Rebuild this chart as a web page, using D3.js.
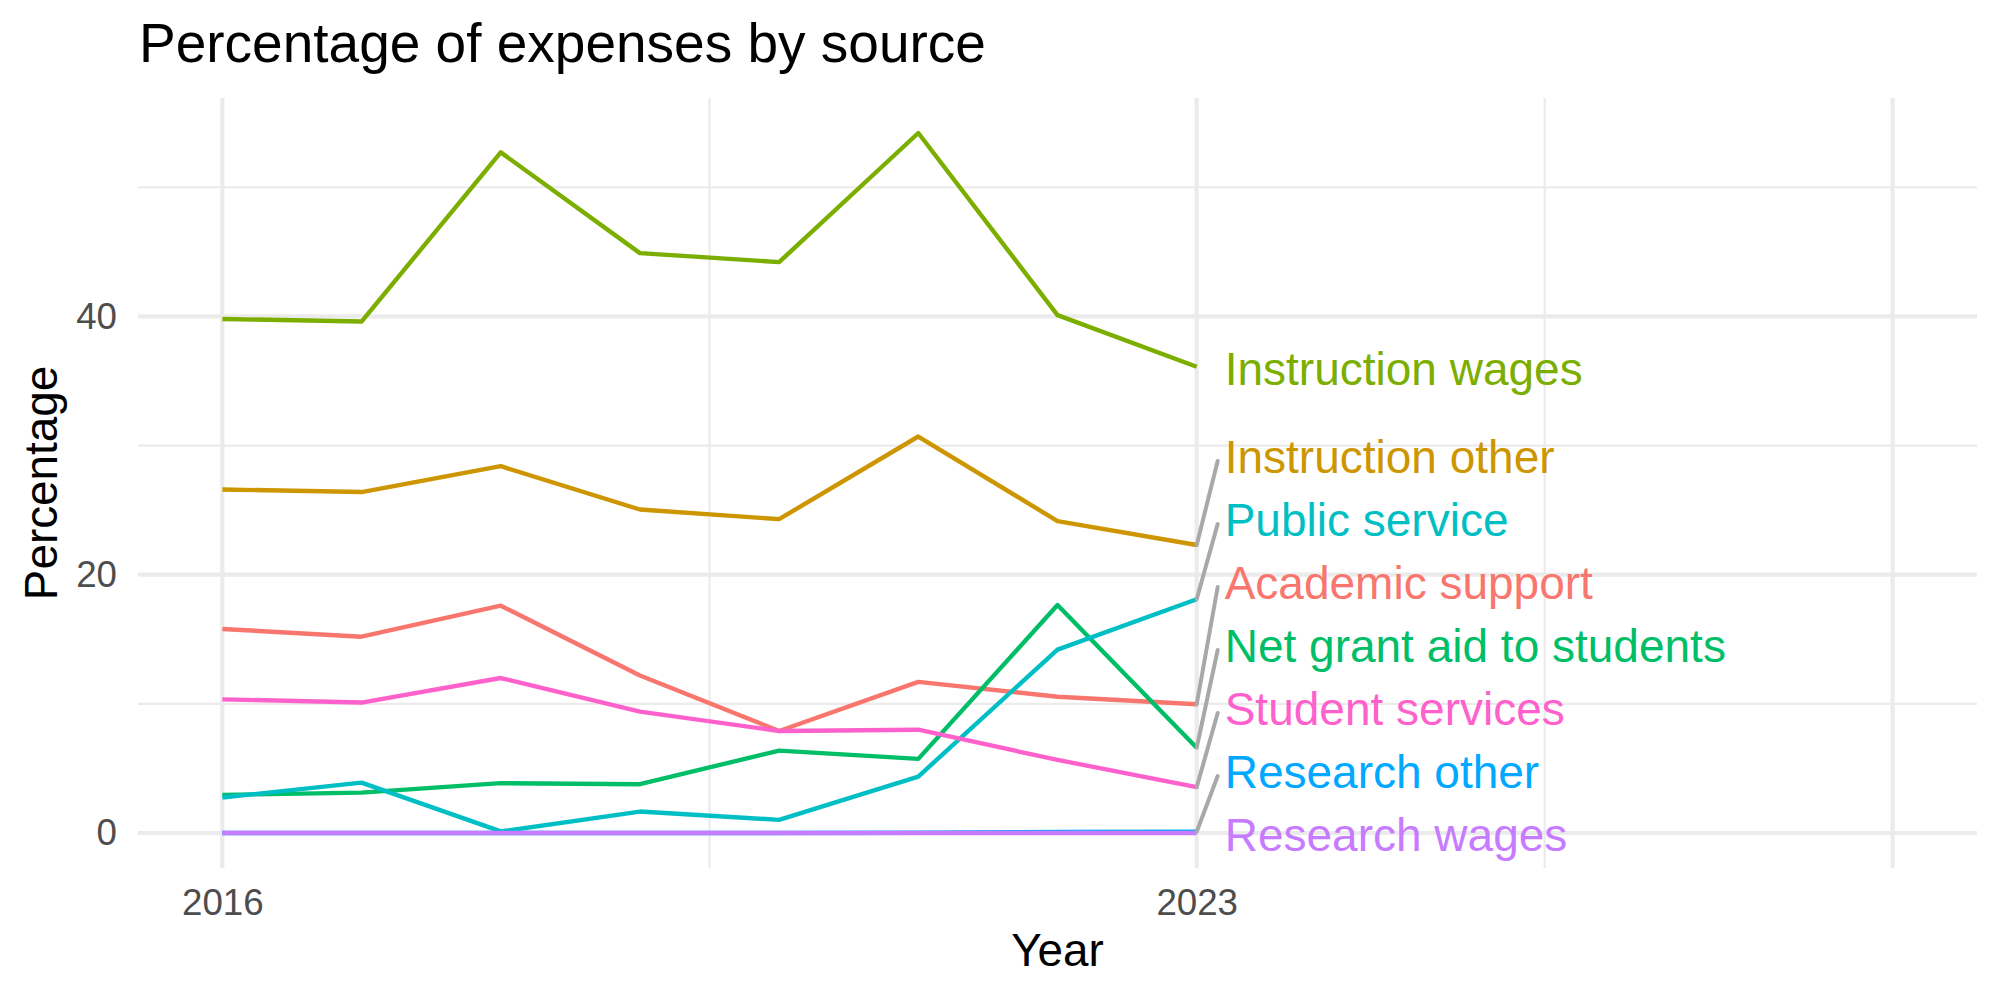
<!DOCTYPE html>
<html lang="en">
<head>
  <meta charset="UTF-8"/>
  <title>Percentage of expenses by source</title>
  <script src="https://d3js.org/d3.v7.min.js"></script>
  <style>
    body { margin: 0; background: #ffffff; }
    svg text { font-family: "Liberation Sans", Arial, Helvetica, sans-serif; }
  </style>
</head>
<body>
<svg id="chart"></svg>
<script>
// data
const years = [2016, 2017, 2018, 2019, 2020, 2021, 2022, 2023];

const academicSupport  = [15.8, 15.2, 17.6, 12.2, 7.9, 11.7, 10.55, 9.97];
const instructionOther = [26.6, 26.4, 28.4, 25.05, 24.3, 30.7, 24.15, 22.3];
const instructionWages = [39.8, 39.6, 52.7, 44.9, 44.2, 54.2, 40.1, 36.1];
const netGrantAid      = [2.95, 3.13, 3.86, 3.78, 6.38, 5.74, 17.65, 6.6];
const publicService    = [2.75, 3.9, 0.12, 1.66, 1.02, 4.37, 14.2, 18.1];
const researchOther    = [0, 0, 0, 0, 0, 0.02, 0.08, 0.1];
const researchWages    = [0, 0, 0, 0, 0, 0, 0, 0];
const studentServices  = [10.35, 10.1, 12.0, 9.4, 7.9, 8.0, 5.66, 3.55];

const categories = ["Academic support", "Instruction other", "Instruction wages",
  "Net grant aid to students", "Public service", "Research other",
  "Research wages", "Student services"];
const seriesValues = [academicSupport, instructionOther, instructionWages, netGrantAid,
  publicService, researchOther, researchWages, studentServices];

const xBreaks = [2016, 2023, 2028];
const xTickLabels = ["2016", "2023", ""];
const yBreaks = [0, 20, 40];
const yMinorBreaks = [10, 30, 50];

const W = 2000, H = 1000;
const panel = {left: 138, right: 1977, top: 98, bottom: 868};

const colors = d3.scaleOrdinal()
  .domain(categories)
  .range(["#F8766D", "#CD9600", "#7CAE00", "#00BE67", "#00BFC4", "#00A9FF", "#C77CFF", "#FF61CC"]);

const series = categories.map((name, i) => ({
  name: name,
  values: years.map((yr, j) => ({year: yr, value: seriesValues[i][j]}))
}));

// scales: x leaves room on the right for the labels
const xPad = 0.606;
const x = d3.scaleLinear()
  .domain([d3.min(xBreaks) - xPad, d3.max(xBreaks) + xPad])
  .range([panel.left, panel.right]);

const allVals = seriesValues.flat();
const yMin = d3.min(allVals), yMax = d3.max(allVals);
const yExp = (yMax - yMin) * 0.05;
const y = d3.scaleLinear()
  .domain([yMin - yExp, yMax + yExp])
  .range([panel.bottom, panel.top]);

const svg = d3.select("#chart").attr("width", W).attr("height", H);

// grid
const xMinor = d3.pairs(xBreaks).map(p => (p[0] + p[1]) / 2);
const grid = svg.append("g").attr("stroke", "#EBEBEB");
grid.selectAll(".ymin").data(yMinorBreaks).join("line")
  .attr("x1", panel.left).attr("x2", panel.right)
  .attr("y1", d => y(d)).attr("y2", d => y(d)).attr("stroke-width", 2.2);
grid.selectAll(".xmin").data(xMinor).join("line")
  .attr("y1", panel.top).attr("y2", panel.bottom)
  .attr("x1", d => x(d)).attr("x2", d => x(d)).attr("stroke-width", 2.2);
grid.selectAll(".ymaj").data(yBreaks).join("line")
  .attr("x1", panel.left).attr("x2", panel.right)
  .attr("y1", d => y(d)).attr("y2", d => y(d)).attr("stroke-width", 4.2);
grid.selectAll(".xmaj").data(xBreaks).join("line")
  .attr("y1", panel.top).attr("y2", panel.bottom)
  .attr("x1", d => x(d)).attr("x2", d => x(d)).attr("stroke-width", 4.2);

// axes
const xAxis = svg.append("g")
  .attr("transform", `translate(0,${panel.bottom})`)
  .call(d3.axisBottom(x).tickValues(xBreaks)
    .tickFormat((d, i) => xTickLabels[i]).tickSize(0).tickPadding(21));
const yAxis = svg.append("g")
  .attr("transform", `translate(${panel.left},0)`)
  .call(d3.axisLeft(y).tickValues(yBreaks).tickSize(0).tickPadding(21));
[xAxis, yAxis].forEach(a => {
  a.select(".domain").remove();
  a.selectAll("text").attr("fill", "#4D4D4D").style("font-size", "36.7px")
    .style("font-family", '"Liberation Sans", Arial, sans-serif');
});

// lines
const line = d3.line().x(d => x(d.year)).y(d => y(d.value));
svg.append("g").selectAll("path").data(series).join("path")
  .attr("d", d => line(d.values))
  .attr("fill", "none")
  .attr("stroke", d => colors(d.name))
  .attr("stroke-width", 4.4)
  .attr("stroke-linejoin", "round");

// end labels, stacked upward from the bottom of the panel
const lastYear = years[years.length - 1];
const ends = series.map(s => ({name: s.name, value: s.values[s.values.length - 1].value}))
  .sort((a, b) => a.value - b.value);
const labelGap = 63;
ends.forEach((d, i) => {
  const target = y(d.value);
  if (i === 0) d.ly = Math.min(target, panel.bottom - 30);
  else d.ly = Math.min(target, ends[i - 1].ly - labelGap);
});
const labelX = x(lastYear) + 28;

svg.append("g").selectAll("line").data(ends.filter(d => Math.abs(d.ly - y(d.value)) > 15))
  .join("line")
  .attr("x1", x(lastYear)).attr("y1", d => y(d.value))
  .attr("x2", labelX - 7).attr("y2", d => d.ly + 6)
  .attr("stroke", "#A8A8A8").attr("stroke-width", 4)
  .attr("stroke-linecap", "round");

svg.append("g").selectAll("text").data(ends).join("text")
  .attr("x", labelX).attr("y", d => d.ly).attr("dy", "0.4em")
  .attr("fill", d => colors(d.name))
  .style("font-size", "46px")
  .text(d => d.name);

// titles
svg.append("text").attr("x", 139).attr("y", 62)
  .style("font-size", "55px").attr("fill", "#000")
  .text("Percentage of expenses by source");
svg.append("text").attr("x", (panel.left + panel.right) / 2).attr("y", 966)
  .attr("text-anchor", "middle").style("font-size", "45.8px")
  .text("Year");
svg.append("text")
  .attr("transform", `translate(57,${(panel.top + panel.bottom) / 2}) rotate(-90)`)
  .attr("text-anchor", "middle").style("font-size", "45.8px")
  .text("Percentage");
</script>
</body>
</html>
